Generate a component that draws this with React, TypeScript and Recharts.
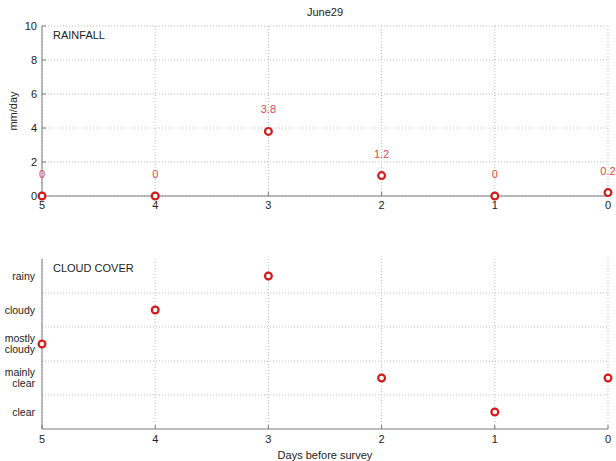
import React from "react";
import {
  ScatterChart,
  Scatter,
  XAxis,
  YAxis,
  CartesianGrid,
  ReferenceLine,
} from "recharts";

const days = [5, 4, 3, 2, 1, 0];
const rainfall = [0, 0, 3.8, 1.2, 0, 0.2];
const rainLabels = ["0", "0", "3.8", "1.2", "0", "0.2"];
const cloudCover = [2.5, 3.5, 4.5, 1.5, 0.5, 1.5];
const cloudTickValues = [0.5, 1.5, 2.5, 3.5, 4.5];
const cloudTickLabels = [["clear"], ["mainly", "clear"], ["mostly", "cloudy"], ["cloudy"], ["rainy"]];
const rainTicks = [0, 2, 4, 6, 8, 10];
const cloudGrid = [1, 2, 3, 4];
const dayTicks = [0, 1, 2, 3, 4, 5];

const rainData = days.map((d, i) => ({ day: d, v: rainfall[i], label: rainLabels[i] }));
const cloudData = days.map((d, i) => ({ day: d, v: cloudCover[i] }));

const FONT = "'Liberation Sans', Arial, sans-serif";
const AXIS = "#7a7a7a";
const MARK = "#d41a1a";
const LABEL_RED = "#e04848";
const tickStyle = { fontSize: 11, fill: "#222", fontFamily: FONT };

const RainPoint = (p: any) => (
  <g>
    <circle cx={p.cx} cy={p.cy} r={3.4} fill="#fff" stroke={MARK} strokeWidth={2.2} />
    <text
      x={p.cx}
      y={p.cy - 18}
      textAnchor="middle"
      fontSize={11}
      fontFamily={FONT}
      fill={LABEL_RED}
    >
      {p.payload.label}
    </text>
  </g>
);

const CloudPoint = (p: any) => (
  <circle cx={p.cx} cy={p.cy} r={3.4} fill="#fff" stroke={MARK} strokeWidth={2.2} />
);

const CloudTick = (p: any) => {
  const idx = cloudTickValues.indexOf(p.payload.value);
  const lines = cloudTickLabels[idx] || [];
  const lh = 10.5;
  const y0 = p.y - ((lines.length - 1) * lh) / 2;
  return (
    <text x={35} y={y0} textAnchor="end" fontSize={10.5} fontFamily={FONT} fill="#222">
      {lines.map((l, i) => (
        <tspan key={l + i} x={35} y={y0 + i * lh} dy="0.35em">
          {l}
        </tspan>
      ))}
    </text>
  );
};

export default function App() {
  return (
    <div
      style={{
        position: "absolute",
        left: 0,
        top: 0,
        width: 616,
        height: 461,
        background: "#fff",
        fontFamily: FONT,
        overflow: "hidden",
      }}
    >
      <div
        style={{
          position: "absolute",
          left: 0,
          width: 650,
          top: 6,
          textAlign: "center",
          fontSize: 11,
          color: "#222",
        }}
      >
        June29
      </div>

      {/* rainfall panel */}
      <div style={{ position: "absolute", left: 0, top: 0 }}>
        <ScatterChart width={616} height={220} margin={{ top: 26, right: 8, bottom: 4, left: 0 }}>
          <CartesianGrid stroke="#bdbdbd" strokeDasharray="1 2" />
          <XAxis
            dataKey="day"
            type="number"
            domain={[0, 5]}
            reversed
            ticks={dayTicks}
            height={20}
            tickSize={-4}
            tickMargin={9}
            stroke={AXIS}
            tick={tickStyle}
          />
          <XAxis
            xAxisId="top"
            orientation="top"
            type="number"
            domain={[0, 5]}
            reversed
            ticks={dayTicks}
            height={0}
            tickSize={-4}
            tick={false}
            stroke={AXIS}
          />
          <YAxis
            dataKey="v"
            type="number"
            domain={[0, 10]}
            ticks={rainTicks}
            width={42}
            tickSize={-4}
            tickMargin={9}
            stroke={AXIS}
            tick={tickStyle}
            label={{
              value: "mm/day",
              angle: -90,
              position: "insideLeft",
              offset: 13,
              style: { fontSize: 11, fill: "#222", fontFamily: FONT, textAnchor: "middle" },
            }}
          />
          <YAxis
            yAxisId="right"
            orientation="right"
            type="number"
            domain={[0, 10]}
            ticks={rainTicks}
            width={0}
            tickSize={-4}
            tick={false}
            stroke={AXIS}
          />
          <Scatter data={rainData} shape={RainPoint} isAnimationActive={false} />
        </ScatterChart>
      </div>
      <div style={{ position: "absolute", left: 53, top: 29, fontSize: 11, color: "#222" }}>
        RAINFALL
      </div>

      {/* cloud cover panel */}
      <div style={{ position: "absolute", left: 0, top: 220 }}>
        <ScatterChart width={616} height={241} margin={{ top: 39, right: 8, bottom: 0, left: 0 }}>
          <CartesianGrid stroke="#bdbdbd" strokeDasharray="1 2" horizontal={false} />
          {cloudGrid.map((g) => (
            <ReferenceLine key={g} y={g} stroke="#bdbdbd" strokeDasharray="1 2" />
          ))}
          <XAxis
            dataKey="day"
            type="number"
            domain={[0, 5]}
            reversed
            ticks={dayTicks}
            height={32}
            tickSize={-4}
            tickMargin={10}
            stroke={AXIS}
            tick={tickStyle}
            label={{
              value: "Days before survey",
              position: "insideBottom",
              offset: 2,
              style: { fontSize: 11, fill: "#222", fontFamily: FONT },
            }}
          />
          <XAxis
            xAxisId="top"
            orientation="top"
            type="number"
            domain={[0, 5]}
            reversed
            ticks={dayTicks}
            height={0}
            tickSize={-4}
            tick={false}
            stroke={AXIS}
          />
          <YAxis
            dataKey="v"
            type="number"
            domain={[0, 5]}
            ticks={cloudTickValues}
            width={42}
            tickLine={false}
            stroke={AXIS}
            tick={<CloudTick />}
          />
          <YAxis
            yAxisId="inner"
            type="number"
            domain={[0, 5]}
            ticks={cloudGrid}
            width={0}
            tickSize={-4}
            tick={false}
            axisLine={false}
            stroke={AXIS}
          />
          <YAxis
            yAxisId="right"
            orientation="right"
            type="number"
            domain={[0, 5]}
            ticks={cloudGrid}
            width={0}
            tickSize={-4}
            tick={false}
            stroke={AXIS}
          />
          <Scatter data={cloudData} shape={CloudPoint} isAnimationActive={false} />
        </ScatterChart>
      </div>
      <div style={{ position: "absolute", left: 53, top: 262, fontSize: 11, color: "#222" }}>
        CLOUD COVER
      </div>
    </div>
  );
}
